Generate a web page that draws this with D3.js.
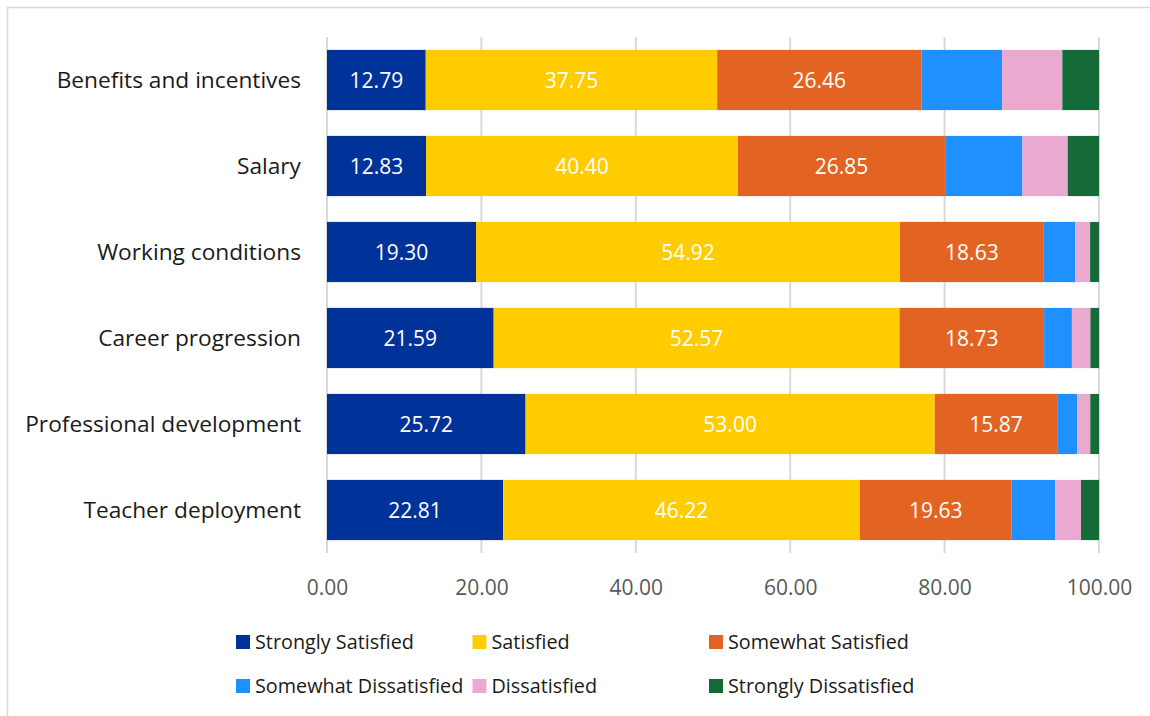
<!DOCTYPE html>
<html>
<head>
<meta charset="utf-8">
<script src="https://cdn.jsdelivr.net/npm/d3@7"></script>
<style>
  html, body { margin: 0; padding: 0; background: #fff; }
  svg { display: block; font-family: "Open Sans", "DejaVu Sans", sans-serif; }
</style>
</head>
<body>
<svg id="chart" width="1150" height="716"></svg>
<script>
// Survey categories (top to bottom)
const categories = [
  "Benefits and incentives",
  "Salary",
  "Working conditions",
  "Career progression",
  "Professional development",
  "Teacher deployment"
];

// Satisfaction levels, in stacking order
const seriesNames = [
  "Strongly Satisfied",
  "Satisfied",
  "Somewhat Satisfied",
  "Somewhat Dissatisfied",
  "Dissatisfied",
  "Strongly Dissatisfied"
];

// Percentages per category for each level
const stronglySatisfied    = [12.79, 12.83, 19.30, 21.59, 25.72, 22.81];
const satisfied            = [37.75, 40.40, 54.92, 52.57, 53.00, 46.22];
const somewhatSatisfied    = [26.46, 26.85, 18.63, 18.73, 15.87, 19.63];
const somewhatDissatisfied = [10.44, 10.00, 4.10, 3.60, 2.56, 5.68];
const dissatisfied         = [7.81, 5.87, 1.90, 2.40, 1.72, 3.33];
const stronglyDissatisfied = [4.75, 4.05, 1.15, 1.11, 1.13, 2.33];

// Only these levels carry a value label inside the bar
const labelledSeries = ["Strongly Satisfied", "Satisfied", "Somewhat Satisfied"];

const xTicks = [0, 20, 40, 60, 80, 100];

const seriesValues = [
  stronglySatisfied, satisfied, somewhatSatisfied,
  somewhatDissatisfied, dissatisfied, stronglyDissatisfied
];

const colors = ["#003399", "#FFCC00", "#E36322", "#1E90FF", "#EAAACF", "#146B37"];

// Build row objects for d3.stack
const rows = categories.map((c, i) => {
  const r = { category: c };
  seriesNames.forEach((s, j) => { r[s] = seriesValues[j][i]; });
  return r;
});

const stack = d3.stack().keys(seriesNames);
const layers = stack(rows);

const svg = d3.select("#chart");

// Outer frame
svg.append("rect")
  .attr("x", 7.5).attr("y", 7.5)
  .attr("width", 1160).attr("height", 730)
  .attr("fill", "none")
  .attr("stroke", "#d9d9d9")
  .attr("stroke-width", 1.5);

const x = d3.scaleLinear().domain([0, 100]).range([327, 1099]);
const y = d3.scaleBand().domain(categories).range([37, 553])
  .paddingInner(0.3).paddingOuter(0.15);

const color = d3.scaleOrdinal().domain(seriesNames).range(colors);

// Vertical gridlines
svg.append("g")
  .selectAll("line")
  .data(xTicks)
  .join("line")
  .attr("x1", d => x(d)).attr("x2", d => x(d))
  .attr("y1", 37).attr("y2", 553)
  .attr("stroke", "#d9d9d9")
  .attr("stroke-width", 2);

// X tick labels
const xAxis = d3.axisBottom(x).tickValues(xTicks).tickFormat(d3.format(".2f")).tickSize(0).tickPadding(0);
const gx = svg.append("g").attr("transform", "translate(0,580)").call(xAxis);
gx.select(".domain").remove();
gx.selectAll("text")
  .attr("dy", "0.71em")
  .attr("fill", "#595959")
  .style("font-size", "21px")
  .style("font-family", "\"Open Sans\", sans-serif");

// Stacked bars
const layerG = svg.append("g")
  .selectAll("g")
  .data(layers)
  .join("g")
  .attr("fill", d => color(d.key));

layerG.selectAll("rect")
  .data(d => d)
  .join("rect")
  .attr("x", d => x(d[0]))
  .attr("y", d => y(d.data.category))
  .attr("width", d => x(d[1]) - x(d[0]))
  .attr("height", y.bandwidth());

// Value labels for the satisfied levels
svg.append("g")
  .selectAll("g")
  .data(layers.filter(l => labelledSeries.includes(l.key)))
  .join("g")
  .selectAll("text")
  .data(d => d.map(p => ({ p, key: d.key })))
  .join("text")
  .attr("x", d => (x(d.p[0]) + x(d.p[1])) / 2)
  .attr("y", d => y(d.p.data.category) + y.bandwidth() / 2)
  .attr("dy", "0.36em")
  .attr("text-anchor", "middle")
  .attr("fill", "#ffffff")
  .style("font-size", "21px")
  .text(d => d3.format(".2f")(d.p.data[d.key]));

// Category labels
const yAxis = d3.axisLeft(y).tickSize(0).tickPadding(0);
const gy = svg.append("g").attr("transform", "translate(301,0)").call(yAxis);
gy.select(".domain").remove();
gy.selectAll("text")
  .attr("fill", "#1a1a1a")
  .attr("dy", "0.36em")
  .style("font-size", "22.7px")
  .style("font-family", "\"Open Sans\", sans-serif");

// Legend: three columns, two rows
const legend = svg.append("g")
  .selectAll("g")
  .data(seriesNames)
  .join("g")
  .attr("transform", (d, i) => `translate(${236 + (i % 3) * 236.5},${642 + Math.floor(i / 3) * 44})`);

legend.append("rect")
  .attr("x", 0).attr("y", -7)
  .attr("width", 14).attr("height", 14)
  .attr("fill", d => color(d));

legend.append("text")
  .attr("x", 19)
  .attr("dy", "0.36em")
  .attr("fill", "#1a1a1a")
  .style("font-size", "19.8px")
  .text(d => d);
</script>
</body>
</html>
